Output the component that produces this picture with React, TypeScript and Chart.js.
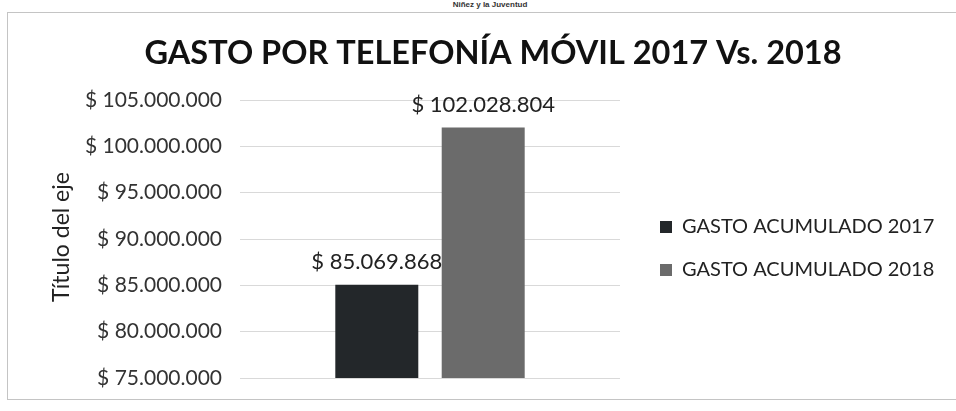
import React, { useEffect, useRef } from "react";
import { Chart, registerables } from "chart.js";

Chart.register(...registerables);

const HEADER = "Niñez y la Juventud";
const TITLE = "GASTO POR TELEFONÍA MÓVIL 2017 Vs. 2018";
const Y_TITLE = "Título del eje";
const CATEGORIES = [""];
const SERIES_LABELS = ["GASTO ACUMULADO 2017", "GASTO ACUMULADO 2018"];
const GASTO_2017 = [85069868];
const GASTO_2018 = [102028804];
const Y_MIN = 75000000;
const Y_MAX = 105000000;
const Y_STEP = 5000000;
const COLORS = ["#23272a", "#6b6b6b"];

const FONT = "Lato";

const fmt = (v: number) =>
  "$ " + Math.round(v).toString().replace(/\B(?=(\d{3})+(?!\d))/g, ".");

const barLabels = {
  id: "barLabels",
  afterDatasetsDraw(chart: any) {
    const ctx = chart.ctx;
    ctx.save();
    ctx.font = `22px ${FONT}`;
    ctx.fillStyle = "#222";
    ctx.textAlign = "center";
    ctx.textBaseline = "middle";
    chart.data.datasets.forEach((ds: any, i: number) => {
      const meta = chart.getDatasetMeta(i);
      meta.data.forEach((el: any, j: number) => {
        ctx.fillText(fmt(ds.data[j]), el.x, el.y - 23);
      });
    });
    ctx.restore();
  },
};

const customTitles = {
  id: "customTitles",
  afterDraw(chart: any) {
    const ctx = chart.ctx;
    const area = chart.chartArea;
    ctx.save();
    ctx.font = `bold 32.5px ${FONT}`;
    ctx.fillStyle = "#111";
    ctx.textAlign = "center";
    ctx.textBaseline = "middle";
    ctx.fillText(TITLE, chart.width / 2, 54);
    // y-axis title, rotated
    ctx.translate(32, (area.top + area.bottom) / 2 - 2);
    ctx.rotate(-Math.PI / 2);
    ctx.font = `23px ${FONT}`;
    ctx.fillStyle = "#222";
    ctx.fillText(Y_TITLE, 0, 0);
    ctx.restore();
  },
};

const customLegend = {
  id: "customLegend",
  afterDraw(chart: any) {
    const ctx = chart.ctx;
    const area = chart.chartArea;
    ctx.save();
    ctx.font = `20px ${FONT}`;
    ctx.textAlign = "left";
    ctx.textBaseline = "middle";
    const x0 = area.right + 40;
    chart.data.datasets.forEach((ds: any, i: number) => {
      const y = 227 + i * 43;
      ctx.fillStyle = ds.backgroundColor;
      ctx.fillRect(x0, y - 6, 12, 12);
      ctx.fillStyle = "#222";
      ctx.fillText(ds.label, x0 + 22, y);
    });
    ctx.restore();
  },
};

export default function App() {
  const ref = useRef<HTMLCanvasElement>(null);

  useEffect(() => {
    if (!ref.current) return;
    const chart = new Chart(ref.current, {
      type: "bar",
      data: {
        labels: CATEGORIES,
        datasets: [
          { label: SERIES_LABELS[0], data: GASTO_2017, backgroundColor: COLORS[0] },
          { label: SERIES_LABELS[1], data: GASTO_2018, backgroundColor: COLORS[1] },
        ],
      },
      options: {
        responsive: false,
        animation: false,
        devicePixelRatio: 1,
        categoryPercentage: 0.56,
        barPercentage: 0.78,
        layout: { padding: { left: 18, right: 336, top: 100, bottom: 33 } },
        plugins: {
          legend: { display: false },
          title: { display: false },
          tooltip: { enabled: false },
        },
        scales: {
          x: { display: false },
          y: {
            min: Y_MIN,
            max: Y_MAX,
            ticks: {
              stepSize: Y_STEP,
              callback: (v: any) => fmt(Number(v)),
              font: { family: FONT, size: 21 },
              color: "#333",
              padding: 18,
            },
            grid: { color: "#d9d9d9", drawTicks: false },
            border: { display: false },
            title: { display: false },
            afterFit(scale: any) {
              scale.width = 192;
            },
          },
        },
      } as any,
      plugins: [barLabels, customTitles, customLegend],
    });
    return () => chart.destroy();
  }, []);

  return (
    <div
      style={{
        position: "fixed",
        left: 0,
        top: 0,
        width: 956,
        height: 411,
        background: "#fff",
        overflow: "hidden",
      }}
    >
      <div
        style={{
          position: "absolute",
          left: 0,
          top: 0,
          width: 956,
          textAlign: "center",
          paddingLeft: 24,
          boxSizing: "border-box",
          font: "bold 8px Arial, 'Liberation Sans', sans-serif",
          color: "#333",
          lineHeight: "9px",
        }}
      >
        {HEADER}
      </div>
      <div
        style={{
          position: "absolute",
          left: 7,
          top: 12,
          width: 970,
          height: 386,
          borderTop: "1px solid #c4c4c4",
          borderLeft: "1px solid #c4c4c4",
          borderBottom: "1px solid #c4c4c4",
        }}
      />
      <canvas
        ref={ref}
        width={926}
        height={411}
        style={{ position: "absolute", left: 30, top: 0, width: 926, height: 411 }}
      />
    </div>
  );
}
